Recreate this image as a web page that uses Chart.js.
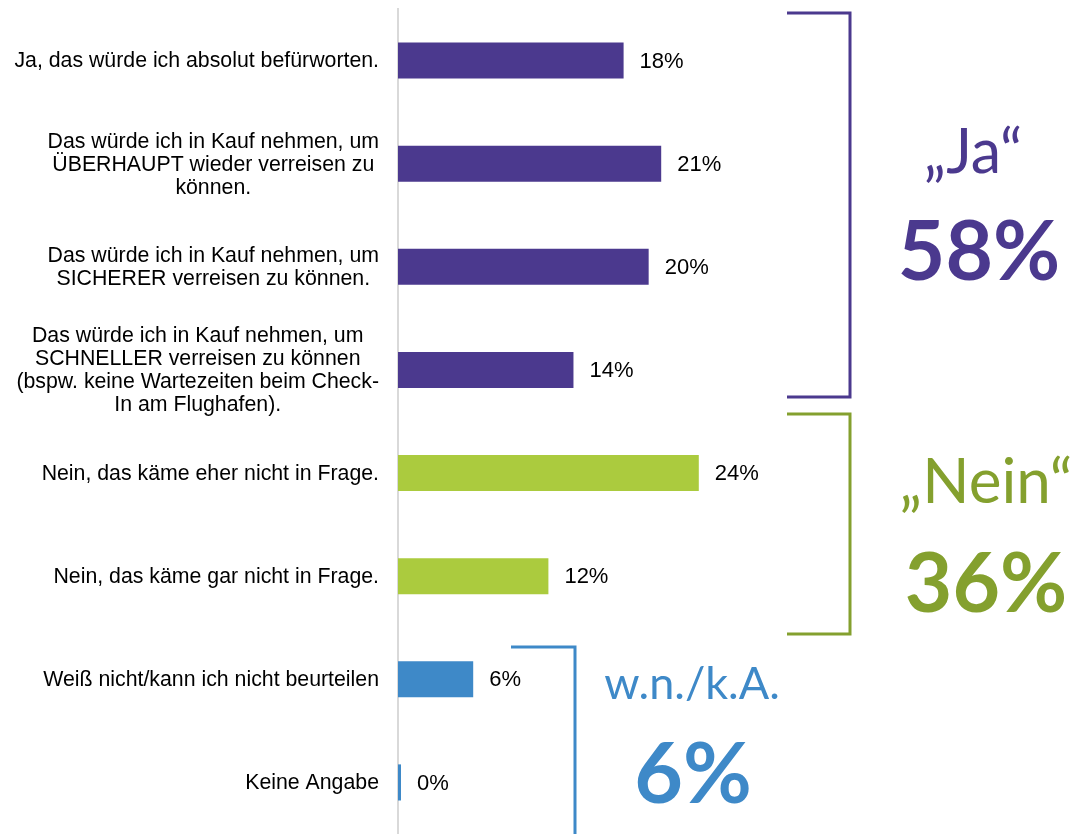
<!DOCTYPE html>
<html lang="de">
<head>
<meta charset="utf-8">
<title>Akzeptanz</title>
<script src="https://cdn.jsdelivr.net/npm/chart.js@4.4.1/dist/chart.umd.min.js"></script>
<style>
  html, body { margin: 0; padding: 0; background: #fff; }
  #wrap { position: relative; width: 1074px; height: 834px; }
</style>
</head>
<body>
<div id="wrap"><canvas id="chart"></canvas></div>
<script>
const categories = [
  ["Ja, das würde ich absolut befürworten."],
  ["Das würde ich in Kauf nehmen, um", "ÜBERHAUPT wieder verreisen zu", "können."],
  ["Das würde ich in Kauf nehmen, um", "SICHERER verreisen zu können."],
  ["Das würde ich in Kauf nehmen, um", "SCHNELLER verreisen zu können", "(bspw. keine Wartezeiten beim Check-", "In am Flughafen)."],
  ["Nein, das käme eher nicht in Frage."],
  ["Nein, das käme gar nicht in Frage."],
  ["Weiß nicht/kann ich nicht beurteilen"],
  ["Keine Angabe"],
]
const shares      = [18, 21, 20, 14, 24, 12, 6, 0]
const answerGroup = [0, 0, 0, 0, 1, 1, 2, 2]
const groupNames  = ["„Ja“", "„Nein“", "w.n./k.A."]
const groupTotals = ["58%", "36%", "6%"]

const LABEL_FONT = '21.3px "Liberation Sans", Arial, sans-serif'
const VALUE_FONT = '22px "Liberation Sans", Arial, sans-serif'
const BIG_FONT   = 'Lato, "Open Sans", sans-serif'

const GROUP_STYLE = [
  { bar: "#4b398e", accent: "#4b398e" },
  { bar: "#abcb3e", accent: "#84a02e" },
  { bar: "#3e89c8", accent: "#3e89c8" },
]

// bracket + summary text placement per answer group
const GROUP_LAYOUT = [
  { x0: 787, x1: 850, top: 13,  bottom: 397, nameX: 973, nameY: 173, nameSize: 61, totalX: 979, totalY: 280, totalSize: 82 },
  { x0: 787, x1: 850, top: 414, bottom: 634, nameX: 986, nameY: 503, nameSize: 62, totalX: 986, totalY: 612, totalSize: 82 },
  { x0: 511, x1: 575, top: 647, bottom: 860, nameX: 692, nameY: 699, nameSize: 45, totalX: 693, totalY: 803, totalSize: 84 },
]

const LABEL_RIGHT = 379
const LINE_HEIGHT = 23

const textPlugin = {
  id: "textPlugin",
  afterDatasetsDraw(chart) {
    const { ctx, scales: { y } } = chart
    const bars = chart.getDatasetMeta(0).data
    ctx.save()
    ctx.textBaseline = "middle"
    ctx.fillStyle = "#000"

    // category labels: each block is right-aligned, lines centred inside it
    ctx.font = LABEL_FONT
    ctx.textAlign = "center"
    categories.forEach((lines, i) => {
      const cy = y.getPixelForValue(i)
      const w = Math.max(...lines.map(l => ctx.measureText(l).width))
      const cx = LABEL_RIGHT - w / 2
      const y0 = cy - (lines.length - 1) * LINE_HEIGHT / 2
      lines.forEach((l, k) => ctx.fillText(l, cx, y0 + k * LINE_HEIGHT + 1))
    })

    // value labels right of each bar
    ctx.font = VALUE_FONT
    ctx.textAlign = "left"
    bars.forEach((bar, i) => {
      ctx.fillText(`${shares[i]}%`, bar.x + 16, bar.y + 1)
    })

    // group brackets and totals
    GROUP_LAYOUT.forEach((g, i) => {
      const color = GROUP_STYLE[i].accent
      ctx.strokeStyle = color
      ctx.lineWidth = 3
      ctx.beginPath()
      ctx.moveTo(g.x0, g.top)
      ctx.lineTo(g.x1, g.top)
      ctx.lineTo(g.x1, g.bottom)
      ctx.lineTo(g.x0, g.bottom)
      ctx.stroke()

      ctx.fillStyle = color
      ctx.textAlign = "center"
      ctx.textBaseline = "alphabetic"
      ctx.font = `400 ${g.nameSize}px ${BIG_FONT}`
      ctx.fillText(groupNames[i], g.nameX, g.nameY)
      ctx.font = `700 ${g.totalSize}px ${BIG_FONT}`
      ctx.fillText(groupTotals[i], g.totalX, g.totalY)
    })
    ctx.restore()
  },
}

new Chart(document.getElementById("chart"), {
  type: "bar",
  data: {
    labels: categories,
    datasets: [{
      data: shares,
      backgroundColor: answerGroup.map(g => GROUP_STYLE[g].bar),
      barPercentage: 0.35,
      categoryPercentage: 1,
      minBarLength: 3,
    }],
  },
  options: {
    indexAxis: "y",
    responsive: true,
    maintainAspectRatio: false,
    animation: false,
    layout: { padding: { left: 390, right: 300, top: 9, bottom: 0 } },
    plugins: {
      legend: { display: false },
      tooltip: { enabled: false },
    },
    scales: {
      x: { display: false, min: 0, max: 30 },
      y: {
        ticks: { display: false },
        grid: { display: false },
        border: { display: true, color: "#d9d9d9", width: 2 },
      },
    },
  },
  plugins: [textPlugin],
})
</script>
</body>
</html>
